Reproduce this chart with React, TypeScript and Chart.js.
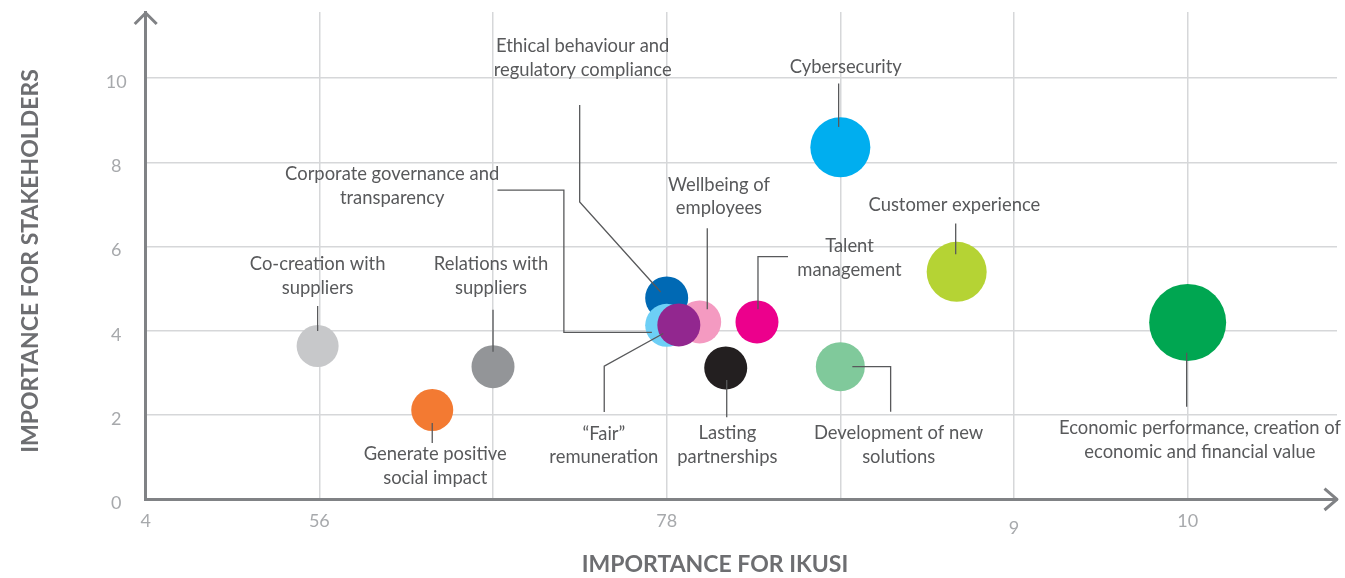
import React, { useEffect, useRef } from "react";
import { Chart, registerables } from "chart.js";

Chart.register(...registerables);

// ---------- data ----------
const topics: string[][] = [
  ["Co-creation with", "suppliers"],
  ["Generate positive", "social impact"],
  ["Relations with", "suppliers"],
  ["Ethical behaviour and", "regulatory compliance"],
  ["Wellbeing of", "employees"],
  ["Corporate governance and", "transparency"],
  ["\u201CFair\u201D", "remuneration"],
  ["Talent", "management"],
  ["Lasting", "partnerships"],
  ["Development of new", "solutions"],
  ["Cybersecurity"],
  ["Customer experience"],
  ["Economic performance, creation of", "economic and financial value"],
];
const importanceForIkusi = [4.99, 5.65, 6.0, 7.0, 7.19, 7.0, 7.07, 7.52, 7.34, 8.0, 8.0, 8.67, 10.0];
const importanceForStakeholders = [3.64, 2.12, 3.15, 4.78, 4.21, 4.13, 4.14, 4.21, 3.12, 3.15, 8.36, 5.4, 4.2];
const bubbleSize = [21, 21, 21.5, 21.5, 21.5, 21.5, 21.5, 21.5, 21.5, 24.5, 30, 30, 38.5];

const xTickValues = [4, 5, 6, 7, 8, 9, 10];
const xTickLabels = ["4", "56", "", "78", "", "9", "10"];
const yTickValues = [0, 2, 4, 6, 8, 10];
const yTickLabels = ["0", "2", "4", "6", "8", "10"];

const xAxisTitle = "IMPORTANCE FOR IKUSI";
const yAxisTitle = "IMPORTANCE FOR STAKEHOLDERS";

// ---------- styles ----------
const bubbleColors = [
  "#c7c8ca", "#f37a32", "#939598", "#0069b4", "#f49ac1", "#6dcff6", "#92278f",
  "#ec008c", "#231f20", "#80c99b", "#00aeef", "#b5d334", "#00a651",
];

// callout placement: text = offset (px) of first baseline from bubble centre,
// path = leader line points (px) relative to bubble centre
const callouts: { text: number[]; path: number[][] }[] = [
  { text: [0, -76], path: [[0, -40], [0, -15]] },
  { text: [3, 50], path: [[0, 13], [0, 33]] },
  { text: [-2, -96.7], path: [[0, -57], [0, -15]] },
  { text: [-84, -245.7], path: [[-87, -193], [-87, -96], [-6, -6]] },
  { text: [19.3, -131.3], path: [[7.6, -93.7], [7.6, -12.7]] },
  { text: [-274.5, -145.3], path: [[-169.2, -135.3], [-102.8, -135.3], [-102.8, 7], [-14.8, 7]] },
  { text: [-75, 114.6], path: [[-74.6, 87], [-74.6, 41.3], [-15.6, 8.6]] },
  { text: [92.5, -69.7], path: [[31, -65.3], [1, -65.3], [1, -12.7]] },
  { text: [1.7, 71.3], path: [[1, 12], [1, 49.3]] },
  { text: [58.3, 72.6], path: [[12, 0], [50.3, 0], [50.3, 45]] },
  { text: [5.5, -74.3], path: [[-1.7, -63.7], [-1.7, -20.3]] },
  { text: [-2.3, -61], path: [[-1, -48.4], [-1, -17.7]] },
  { text: [12.3, 111.7], path: [[-1, 30.4], [-1, 84.4]] },
];

const FONT = "Lato, 'Open Sans', sans-serif";
const TEXT_COLOR = "#58595b";
const TICK_COLOR = "#a7a9ac";
const TITLE_COLOR = "#6d6e71";
const AXIS_COLOR = "#808285";
const GRID_COLOR = "#d6d7d9";

const decorPlugin = {
  id: "decor",
  afterDatasetsDraw(chart: any) {
    const ctx = chart.ctx as CanvasRenderingContext2D;
    const meta = chart.getDatasetMeta(0);
    ctx.save();
    meta.data.forEach((el: any, i: number) => {
      const c = callouts[i];
      const { x, y } = el.getProps(["x", "y"], true);
      ctx.strokeStyle = TEXT_COLOR;
      ctx.lineWidth = 1.3;
      ctx.beginPath();
      c.path.forEach(([dx, dy], j) => (j ? ctx.lineTo(x + dx, y + dy) : ctx.moveTo(x + dx, y + dy)));
      ctx.stroke();
      ctx.font = `18.4px ${FONT}`;
      ctx.fillStyle = TEXT_COLOR;
      ctx.textAlign = "center";
      ctx.textBaseline = "alphabetic";
      topics[i].forEach((t, k) => ctx.fillText(t, x + c.text[0], y + c.text[1] + k * 23.7));
    });

    const { left, top, right, bottom } = chart.chartArea;
    ctx.strokeStyle = AXIS_COLOR;
    ctx.lineWidth = 3;
    ctx.lineJoin = "round";
    ctx.beginPath();
    ctx.moveTo(left - 11, top + 12);
    ctx.lineTo(left, top + 1);
    ctx.lineTo(left + 11, top + 12);
    ctx.stroke();
    ctx.beginPath();
    ctx.moveTo(right - 12.5, bottom - 10.7);
    ctx.lineTo(right, bottom);
    ctx.lineTo(right - 12.5, bottom + 10.7);
    ctx.stroke();

    // axis titles
    ctx.fillStyle = TITLE_COLOR;
    ctx.font = `bold 23px ${FONT}`;
    ctx.textAlign = "center";
    ctx.textBaseline = "alphabetic";
    ctx.fillText(xAxisTitle, 715, 571.7);
    ctx.translate(38.3, 261);
    ctx.rotate(-Math.PI / 2);
    ctx.fillText(yAxisTitle, 0, 0);
    ctx.restore();
  },
};

export default function App() {
  const ref = useRef<HTMLCanvasElement | null>(null);
  useEffect(() => {
    if (!ref.current) return;
    const chart = new Chart(ref.current, {
      type: "bubble",
      data: {
        datasets: [
          {
            label: "Material topics",
            data: importanceForIkusi.map((x, i) => ({ x, y: importanceForStakeholders[i], r: bubbleSize[i] })),
            backgroundColor: bubbleColors,
            borderWidth: 0,
            hoverBorderWidth: 0,
          } as any,
        ],
      },
      options: {
        animation: false,
        responsive: false,
        events: [],
        layout: { autoPadding: false, padding: { top: 12, right: 8, left: 0, bottom: 0 } },
        plugins: { legend: { display: false }, tooltip: { enabled: false } },
        scales: {
          x: {
            type: "linear",
            min: 4,
            max: 10.86,
            afterFit: (s: any) => {
              s.height = 78.7;
              s.paddingLeft = 0;
              s.paddingRight = 0;
            },
            afterBuildTicks: (s: any) => {
              s.ticks = xTickValues.map((v) => ({ value: v }));
            },
            ticks: {
              autoSkip: false,
              maxRotation: 0,
              padding: 11,
              color: TICK_COLOR,
              font: (c: any) => ({ family: FONT, size: 18, lineHeight: c.tick && c.tick.value === 9 ? 1.95 : 1.2 }),
              callback: (v: any) => {
                const i = xTickValues.indexOf(Number(v));
                return i >= 0 ? xTickLabels[i] : "";
              },
            },
            grid: { color: GRID_COLOR, lineWidth: 1.5, drawTicks: false, tickLength: 0 },
            border: { color: AXIS_COLOR, width: 3 },
          },
          y: {
            type: "linear",
            min: 0,
            max: 11.57,
            afterFit: (s: any) => {
              s.width = 145.7;
              s.paddingTop = 0;
              s.paddingBottom = 0;
            },
            afterBuildTicks: (s: any) => {
              s.ticks = yTickValues.map((v) => ({ value: v }));
            },
            ticks: {
              padding: 19,
              crossAlign: "center",
              labelOffset: 4,
              color: TICK_COLOR,
              font: { family: FONT, size: 18 },
              callback: (v: any) => {
                const i = yTickValues.indexOf(Number(v));
                return i >= 0 ? yTickLabels[i] : "";
              },
            },
            grid: { color: GRID_COLOR, lineWidth: 1.5, drawTicks: false, tickLength: 0 },
            border: { color: AXIS_COLOR, width: 3 },
          },
        },
      } as any,
      plugins: [decorPlugin],
    });
    return () => chart.destroy();
  }, []);

  return (
    <div style={{ position: "fixed", left: 0, top: 0, width: 1345, height: 578, background: "#fff" }}>
      <canvas ref={ref} width={1345} height={578} style={{ display: "block" }} />
    </div>
  );
}
